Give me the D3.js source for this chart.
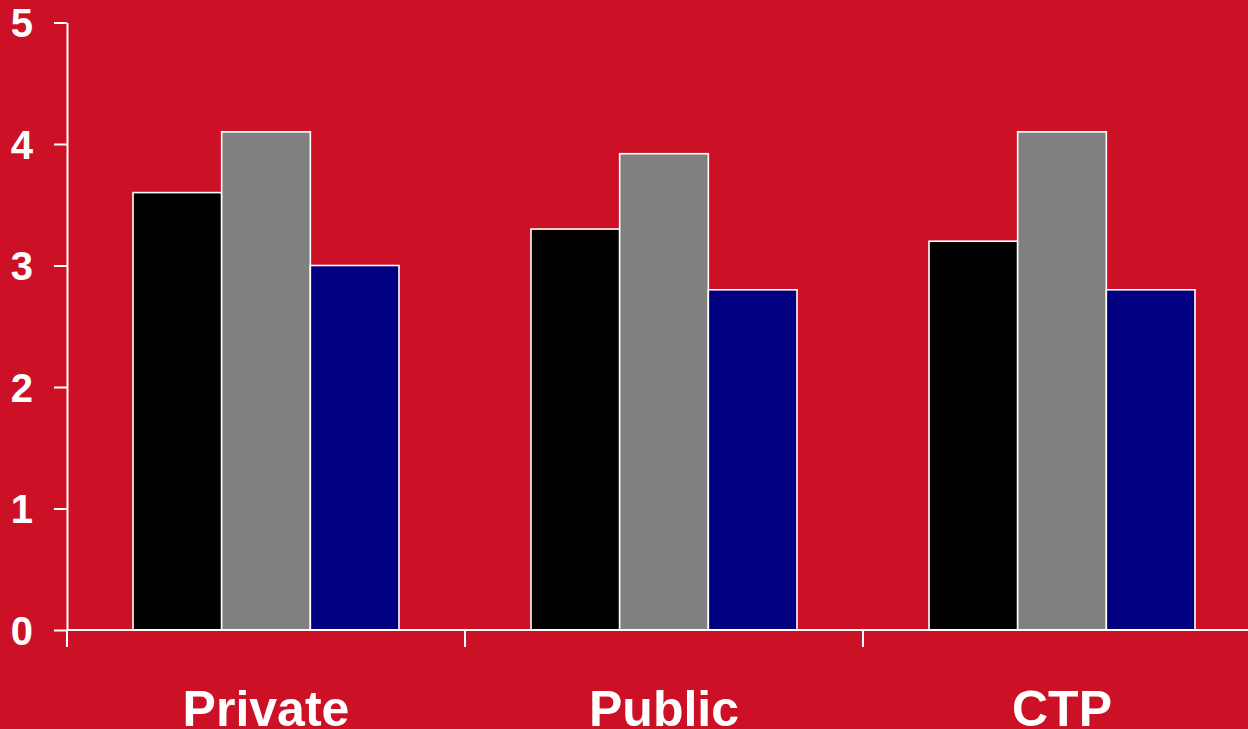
<!DOCTYPE html>
<html>
<head>
<meta charset="utf-8">
<script src="https://cdn.jsdelivr.net/npm/d3@7"></script>
<style>
  html, body { margin: 0; padding: 0; background: #cc1126; overflow: hidden; }
  svg { display: block; font-family: "Liberation Sans", Arial, sans-serif; font-weight: bold; }
</style>
</head>
<body>
<svg id="chart" width="1248" height="729"></svg>
<script>
// Categories and series values
const categories = ["Private", "Public", "CTP"];
const seriesNames = ["Series 1", "Series 2", "Series 3"];
const series1 = [3.6, 3.3, 3.2];
const series2 = [4.1, 3.92, 4.1];
const series3 = [3.0, 2.8, 2.8];
const yTicks = [0, 1, 2, 3, 4, 5];

const seriesColors = ["#000000", "#808080", "#000080"];
const seriesValues = [series1, series2, series3];

const rows = categories.map((c, i) => ({
  category: c,
  values: seriesNames.map((s, j) => ({ key: s, value: seriesValues[j][i] }))
}));

const svg = d3.select("#chart");
const W = 1248, H = 729;
const plotLeft = 67, plotTop = 22.5, plotBottom = 630;

const x0 = d3.scaleBand().domain(categories).range([plotLeft, plotLeft + 3 * 398]).paddingInner(0).paddingOuter(0);
const groupPad = 66;
const x1 = d3.scaleBand().domain(seriesNames).range([groupPad, x0.bandwidth() - groupPad]).padding(0);
const y = d3.scaleLinear().domain([0, 5]).range([plotBottom, plotTop]);

// Bars
const groups = svg.append("g")
  .selectAll("g")
  .data(rows)
  .join("g")
  .attr("transform", d => `translate(${x0(d.category)},0)`);

groups.selectAll("rect")
  .data(d => d.values)
  .join("rect")
  .attr("x", d => x1(d.key))
  .attr("y", d => y(d.value))
  .attr("width", x1.bandwidth())
  .attr("height", d => y(0) - y(d.value))
  .attr("fill", (d, i) => seriesColors[i])
  .attr("stroke", "#ffffff")
  .attr("stroke-width", 1.6);

// Y axis
const yAxis = d3.axisLeft(y)
  .tickValues(yTicks)
  .tickFormat(d3.format("d"))
  .tickSizeInner(13)
  .tickSizeOuter(0)
  .tickPadding(21);

const yg = svg.append("g")
  .attr("transform", `translate(${plotLeft},0)`)
  .call(yAxis);
yg.select(".domain").attr("stroke", "#fff").attr("stroke-width", 2);
yg.selectAll(".tick line").attr("stroke", "#fff").attr("stroke-width", 2);
yg.selectAll(".tick text")
  .attr("fill", "#fff")
  .attr("font-size", 40)
  .attr("font-weight", "bold")
  .attr("font-family", "'Liberation Sans', Arial, sans-serif")
  .attr("dy", "0.36em");

// X axis line and category separators
const xg = svg.append("g");
xg.append("line")
  .attr("x1", plotLeft).attr("x2", W)
  .attr("y1", y(0)).attr("y2", y(0))
  .attr("stroke", "#fff").attr("stroke-width", 2);

xg.selectAll("line.sep")
  .data(categories)
  .join("line")
  .attr("class", "sep")
  .attr("x1", d => x0(d)).attr("x2", d => x0(d))
  .attr("y1", y(0)).attr("y2", y(0) + 17)
  .attr("stroke", "#fff").attr("stroke-width", 2);

xg.selectAll("text.cat")
  .data(categories)
  .join("text")
  .attr("class", "cat")
  .attr("x", d => x0(d) + x0.bandwidth() / 2)
  .attr("y", 726)
  .attr("text-anchor", "middle")
  .attr("fill", "#fff")
  .attr("font-size", 50)
  .attr("font-weight", "bold")
  .text(d => d);
</script>
</body>
</html>
